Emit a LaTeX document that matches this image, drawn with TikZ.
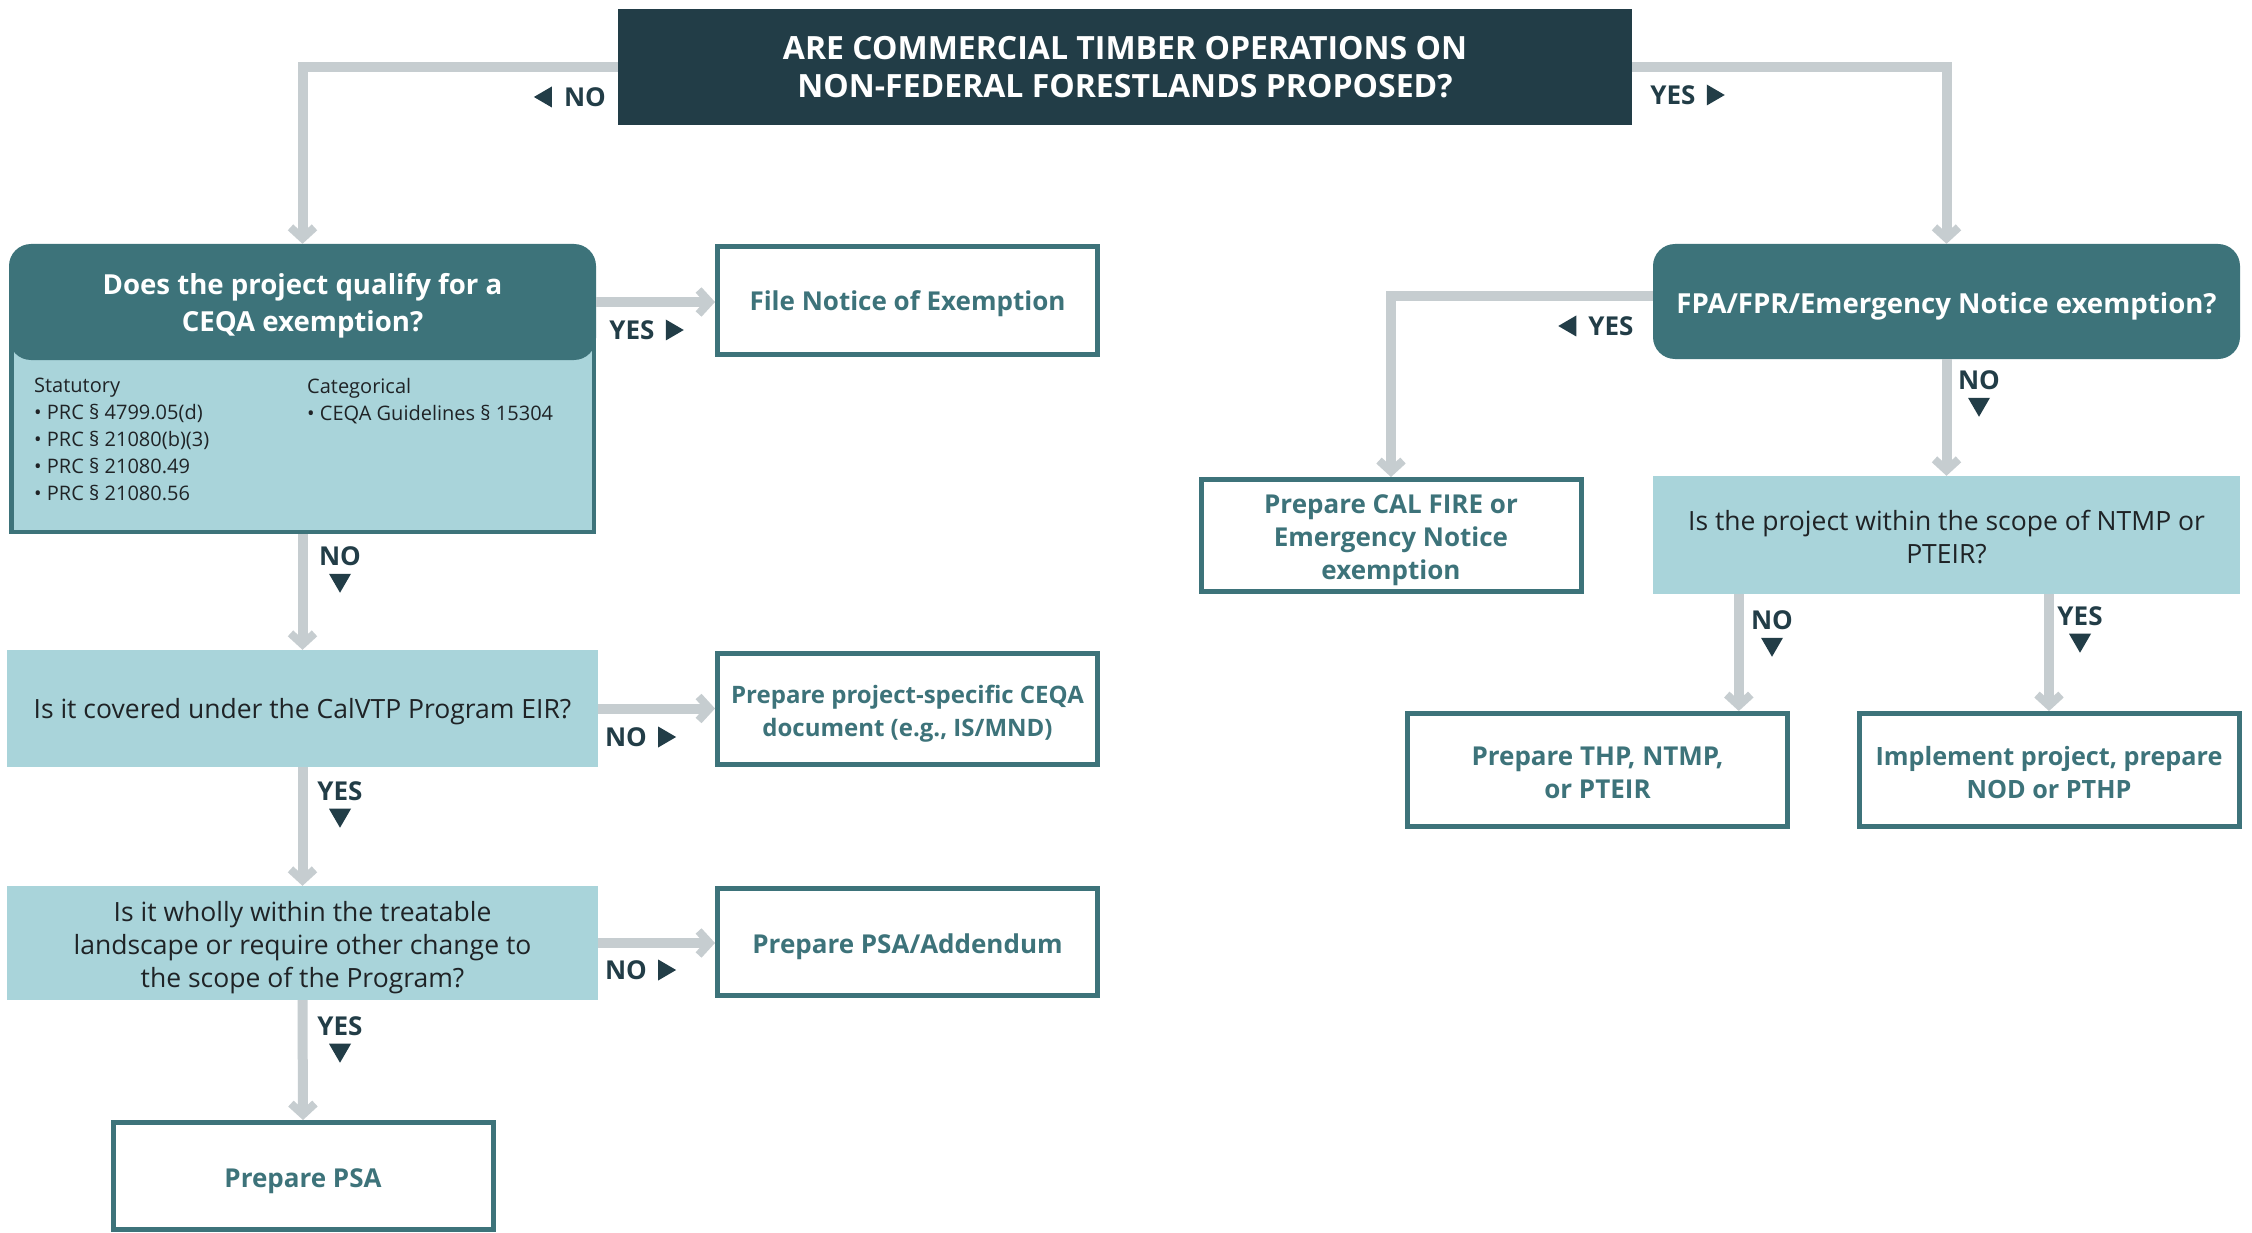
\documentclass[tikz,border=0pt]{standalone}
\usepackage{fontspec}
\setmainfont{Open Sans}
\usetikzlibrary{arrows.meta,calc}
\definecolor{navy}{HTML}{223D47}
\definecolor{tealC}{HTML}{3D737A}
\definecolor{lightC}{HTML}{A9D4DA}
\definecolor{grayC}{HTML}{C6CDD0}
\definecolor{txtC}{HTML}{1F2326}
\newcommand{\mytriL}[1]{\fill[tri] ($(#1.west)+(-12,-10.5)$) -- ++(0,21) -- ++(-18,-10.5) -- cycle;}
\newcommand{\mytriR}[1]{\fill[tri] ($(#1.east)+(11,-10.5)$) -- ++(0,21) -- ++(18,-10.5) -- cycle;}
\newcommand{\mytriD}[1]{\fill[tri] ($(#1.south)+(-11,8)$) -- ++(22,0) -- ++(-11,19) -- cycle;}
\begin{document}
\begin{tikzpicture}[x=1pt,y=-1pt,
  every node/.style={inner sep=0pt},
  titlebox/.style={fill=navy, text=white, font=\bfseries\fontsize{32}{38}\selectfont, align=center, minimum width=1014pt, minimum height=116pt},
  darkbox/.style={fill=tealC, rounded corners=22pt},
  darktext/.style={text=white, font=\bfseries\fontsize{27.6}{37}\selectfont, align=center},
  lightbox/.style={fill=lightC},
  lighttext/.style={text=txtC, font=\fontsize{26.5}{33}\selectfont, align=center},
  outbox/.style={draw=tealC, line width=5pt, fill=white, minimum width=380pt, minimum height=108pt},
  outtext/.style={text=tealC, font=\bfseries\fontsize{26}{33}\selectfont, align=center},
  listtext/.style={text=txtC, font=\fontsize{20}{27}\selectfont, align=left, anchor=north west},
  flow/.style={draw=grayC, line width=10pt, -{Straight Barb[length=11pt, width=24pt, line width=8pt, sharp]}},
  lbl/.style={text=navy, font=\bfseries\fontsize{26}{26}\selectfont},
  tri/.style={fill=navy}
]
\useasboundingbox[fill=white] (0,0) rectangle (2252,1233);

% ---- boxes
\node[titlebox] (title) at (1125,67) {ARE COMMERCIAL TIMBER OPERATIONS ON\\NON-FEDERAL FORESTLANDS PROPOSED?};

\node[draw=tealC, line width=4.5pt, fill=lightC, minimum width=582.5pt, minimum height=199.5pt] (ceqabody) at (302.5,432) {};
\node[darkbox, minimum width=587pt, minimum height=116pt] (ceqa) at (302.5,302) {};
\node[outbox] (notice) at (907.5,300.5) {};
\node[darkbox, minimum width=587pt, minimum height=115pt] (fpa) at (1946.5,301.5) {};
\node[outbox, minimum height=112pt] (calfire) at (1391,535.5) {};
\node[lightbox, minimum width=587pt, minimum height=118pt] (ntmp) at (1946.5,535) {};
\node[outbox, minimum height=113pt] (thp) at (1597.5,770) {};
\node[outbox, minimum height=113pt] (impl) at (2049,770) {};
\node[lightbox, minimum width=591pt, minimum height=117pt] (calvtp) at (302.5,708.5) {};
\node[outbox, minimum height=111pt] (proj) at (907.5,709) {};
\node[lightbox, minimum width=591pt, minimum height=114pt] (wholly) at (302.5,943) {};
\node[outbox, minimum height=107pt] (psaadd) at (907.5,942) {};
\node[outbox, minimum height=107pt] (psa) at (303,1176) {};

% ---- box texts
\node[darktext, yshift=-3.5pt] (ceqaT) at (ceqa) {Does the project qualify for a\\CEQA exemption?};
\node[listtext] (stat) at (34,378) {Statutory\\• PRC § 4799.05(d)\\• PRC § 21080(b)(3)\\• PRC § 21080.49\\• PRC § 21080.56};
\node[listtext] (cat) at (307,378) {Categorical\\• CEQA Guidelines § 15304};
\node[outtext, yshift=-3.5pt] (noticeT) at (notice) {File Notice of Exemption};
\node[darktext, yshift=-4.5pt] (fpaT) at (fpa) {FPA/FPR/Emergency Notice exemption?};
\node[outtext, yshift=-4.5pt] (calfireT) at (calfire) {Prepare CAL FIRE or\\Emergency Notice\\exemption};
\node[lighttext, yshift=-2pt] (ntmpT) at (ntmp) {Is the project within the scope of NTMP or\\PTEIR?};
\node[outtext, yshift=-3pt] (thpT) at (thp) {Prepare THP, NTMP,\\or PTEIR};
\node[outtext, yshift=-3pt, font=\bfseries\fontsize{25.2}{33}\selectfont] (implT) at (impl) {Implement project, prepare\\NOD or PTHP};
\node[lighttext, yshift=-3pt] (calvtpT) at (calvtp) {Is it covered under the CalVTP Program EIR?};
\node[outtext, yshift=-4.5pt, font=\bfseries\fontsize{24}{33}\selectfont] (projT) at (proj) {Prepare project-specific CEQA\\document (e.g., IS/MND)};
\node[lighttext, yshift=-4.5pt] (whollyT) at (wholly) {Is it wholly within the treatable\\landscape or require other change to\\the scope of the Program?};
\node[outtext, yshift=-4.5pt] (psaaddT) at (psaadd) {Prepare PSA/Addendum};
\node[outtext, yshift=-5pt] (psaT) at (psa) {Prepare PSA};

% ---- connectors
\draw[flow] (title.west) -| (ceqa.north);
\draw[flow] (title.east) -| (fpa.north);
\draw[flow] (ceqa.east) -- (ceqa.east -| notice.west);
\draw[flow] ([yshift=5pt]fpa.west) -| (calfire.north);
\draw[flow] (fpa.south) -- (ntmp.north);
\draw[flow] ([xshift=86pt]ntmp.south west) -- ([xshift=86pt]ntmp.south west |- thp.north);
\draw[flow] (impl.north |- ntmp.south) -- (impl.north);
\draw[flow] (ceqabody.south) -- (calvtp.north);
\draw[flow] (calvtp.east) -- (calvtp.east -| proj.west);
\draw[flow] (calvtp.south) -- (wholly.north);
\draw[flow] (wholly.east) -- (wholly.east -| psaadd.west);
\draw[flow] (wholly.south) -- (psa.north);

% ---- labels
\node[lbl] (l1) at (585,97) {NO}; \mytriL{l1}
\node[lbl] (l2) at (1673,95) {YES}; \mytriR{l2}
\node[lbl] (l3) at (632,330) {YES}; \mytriR{l3}
\node[lbl] (l4) at (1611,326) {YES}; \mytriL{l4}
\node[lbl] (l5) at (1979,380) {NO}; \mytriD{l5}
\node[lbl] (l6) at (340,556) {NO}; \mytriD{l6}
\node[lbl] (l7) at (626,737) {NO}; \mytriR{l7}
\node[lbl] (l8) at (340,791) {YES}; \mytriD{l8}
\node[lbl] (l9) at (626,970) {NO}; \mytriR{l9}
\node[lbl] (l10) at (340,1026) {YES}; \mytriD{l10}
\node[lbl] (l11) at (1772,620) {NO}; \mytriD{l11}
\node[lbl] (l12) at (2080,616) {YES}; \mytriD{l12}
\end{tikzpicture}
\end{document}
